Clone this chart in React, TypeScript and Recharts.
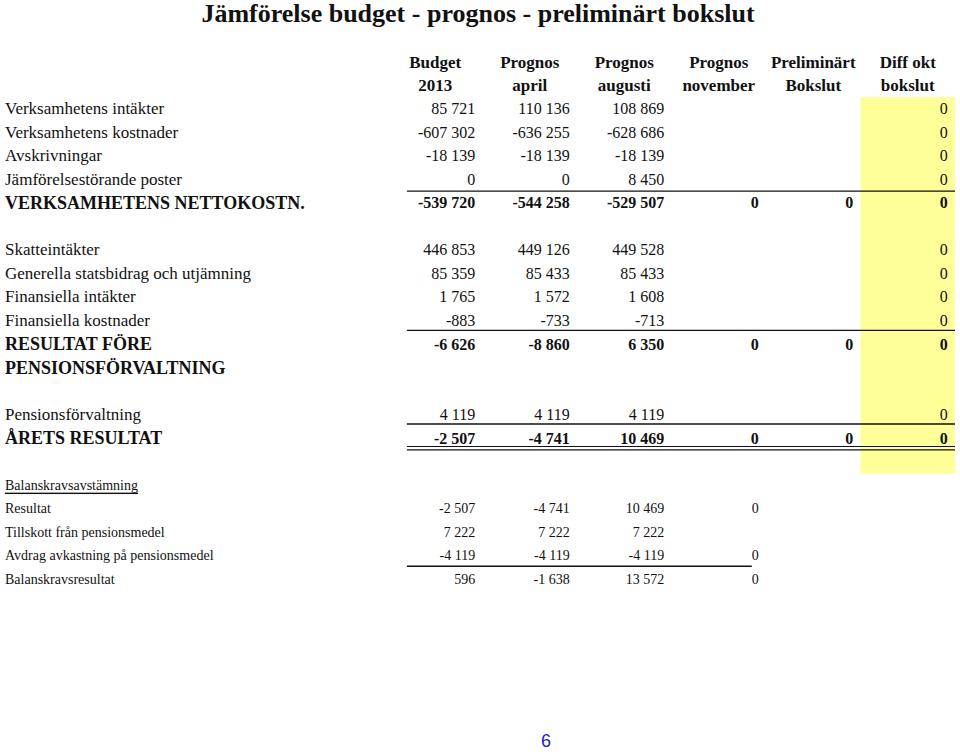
import React from "react";
import {
  ScatterChart,
  Scatter,
  XAxis,
  YAxis,
  ReferenceArea,
  ReferenceLine,
} from "recharts";

const title = "Jämförelse budget - prognos - preliminärt bokslut";

const headerTop = ["Budget", "Prognos", "Prognos", "Prognos", "Preliminärt", "Diff okt"];
const headerBottom = ["2013", "april", "augusti", "november", "Bokslut", "bokslut"];

const rowLabels = [
  "Verksamhetens intäkter",
  "Verksamhetens kostnader",
  "Avskrivningar",
  "Jämförelsestörande poster",
  "VERKSAMHETENS NETTOKOSTN.",
  "",
  "Skatteintäkter",
  "Generella statsbidrag och utjämning",
  "Finansiella intäkter",
  "Finansiella kostnader",
  "RESULTAT FÖRE",
  "PENSIONSFÖRVALTNING",
  "",
  "Pensionsförvaltning",
  "ÅRETS RESULTAT",
  "",
  "Balanskravsavstämning",
  "Resultat",
  "Tillskott från pensionsmedel",
  "Avdrag avkastning på pensionsmedel",
  "Balanskravsresultat",
];

const budget2013 = [85721, -607302, -18139, 0, -539720, null, 446853, 85359, 1765, -883, -6626, null, null, 4119, -2507, null, null, -2507, 7222, -4119, 596];
const prognosApril = [110136, -636255, -18139, 0, -544258, null, 449126, 85433, 1572, -733, -8860, null, null, 4119, -4741, null, null, -4741, 7222, -4119, -1638];
const prognosAugusti = [108869, -628686, -18139, 8450, -529507, null, 449528, 85433, 1608, -713, 6350, null, null, 4119, 10469, null, null, 10469, 7222, -4119, 13572];
const prognosNovember = [null, null, null, null, 0, null, null, null, null, null, 0, null, null, null, 0, null, null, 0, null, 0, 0];
const preliminartBokslut = [null, null, null, null, 0, null, null, null, null, null, 0, null, null, null, 0, null, null, null, null, null, null];
const diffOktBokslut = [0, 0, 0, 0, 0, null, 0, 0, 0, 0, 0, null, null, 0, 0, null, null, null, null, null, null];

const boldRows = [4, 10, 11, 14];
const smallRows = [16, 17, 18, 19, 20];
const underlinedRows = [16];

const columns = [budget2013, prognosApril, prognosAugusti, prognosNovember, preliminartBokslut, diffOktBokslut];

const serif = "'Liberation Serif', 'Times New Roman', serif";

const fmt = (v: number) =>
  (v < 0 ? "-" : "") + String(Math.abs(v)).replace(/\B(?=(\d{3})+(?!\d))/g, " ");

const cells = columns.map((vals, ci) =>
  vals
    .map((v, ri) => ({ ci, ri, v }))
    .filter((d) => d.v !== null)
);

const rowTicks = rowLabels.map((_, i) => i);
const colTicks = headerTop.map((_, i) => i);

const CellText = (props: any) => {
  const { cx, cy, payload } = props;
  const r = payload.ri;
  return (
    <text
      x={cx + 40}
      y={cy}
      textAnchor="end"
      dominantBaseline="central"
      fontFamily={serif}
      fontSize={smallRows.includes(r) ? 14 : 16}
      fontWeight={boldRows.includes(r) ? "bold" : "normal"}
      fill="#111"
    >
      {fmt(payload.v)}
    </text>
  );
};

const RowLabel = (props: any) => {
  const { y, payload } = props;
  const r = payload.value;
  const label = rowLabels[r];
  if (!label) return <g />;
  const bold = boldRows.includes(r);
  const size = smallRows.includes(r) ? 14 : bold ? 18 : 17;
  return (
    <text
      x={5}
      y={y}
      textAnchor="start"
      dominantBaseline="central"
      fontFamily={serif}
      fontSize={size}
      fontWeight={bold ? "bold" : "normal"}
      textDecoration={underlinedRows.includes(r) ? "underline" : undefined}
      fill="#111"
    >
      {label}
    </text>
  );
};

const HeaderTick = (props: any) => {
  const { x, y, payload } = props;
  const i = payload.value;
  return (
    <g fontFamily={serif} fontSize={17} fontWeight="bold" fill="#111">
      <text x={x} y={y - 33} textAnchor="middle" dominantBaseline="central">
        {headerTop[i]}
      </text>
      <text x={x} y={y - 10} textAnchor="middle" dominantBaseline="central">
        {headerBottom[i]}
      </text>
    </g>
  );
};

export default function App() {
  return (
    <div style={{ position: "absolute", left: 0, top: 0, width: 960, height: 754, background: "#fff" }}>
      <div
        style={{
          position: "absolute",
          left: 0,
          top: 0,
          width: 956,
          textAlign: "center",
          fontFamily: serif,
          fontWeight: "bold",
          fontSize: 26,
          lineHeight: "28px",
          color: "#111",
        }}
      >
        {title}
      </div>
      <ScatterChart width={960} height={754} margin={{ top: 0, right: 5, bottom: 163, left: 0 }}>
        <XAxis
          type="number"
          dataKey="ci"
          xAxisId="c"
          orientation="top"
          domain={[-0.5, 5.5]}
          ticks={colTicks}
          interval={0}
          height={97}
          axisLine={false}
          tickLine={false}
          tickSize={0}
          tick={<HeaderTick />}
        />
        <YAxis
          type="number"
          dataKey="ri"
          yAxisId="r"
          reversed
          domain={[-0.5, 20.5]}
          ticks={rowTicks}
          interval={0}
          width={388}
          axisLine={false}
          tickLine={false}
          tick={<RowLabel />}
        />
        <ReferenceArea
          xAxisId="c"
          yAxisId="r"
          x1={4.5}
          x2={5.5}
          y1={-0.5}
          y2={15.5}
          fill="#ffff99"
          fillOpacity={1}
          stroke="none"
        />
        <ReferenceLine xAxisId="c" yAxisId="r" segment={[{ x: -0.3, y: 3.5 }, { x: 5.5, y: 3.5 }]} stroke="#111" strokeWidth={1.4} />
        <ReferenceLine xAxisId="c" yAxisId="r" segment={[{ x: -0.3, y: 9.42 }, { x: 5.5, y: 9.42 }]} stroke="#111" strokeWidth={1.4} />
        <ReferenceLine xAxisId="c" yAxisId="r" segment={[{ x: -0.3, y: 13.4 }, { x: 5.5, y: 13.4 }]} stroke="#111" strokeWidth={1.4} />
        <ReferenceLine xAxisId="c" yAxisId="r" segment={[{ x: -0.3, y: 14.36 }, { x: 5.5, y: 14.36 }]} stroke="#111" strokeWidth={1.1} />
        <ReferenceLine xAxisId="c" yAxisId="r" segment={[{ x: -0.3, y: 14.5 }, { x: 5.5, y: 14.5 }]} stroke="#111" strokeWidth={1.1} />
        <ReferenceLine xAxisId="c" yAxisId="r" segment={[{ x: -0.3, y: 19.45 }, { x: 3.35, y: 19.45 }]} stroke="#111" strokeWidth={1.4} />
        {cells.map((data, ci) => (
          <Scatter
            key={ci}
            xAxisId="c"
            yAxisId="r"
            data={data}
            shape={<CellText />}
            isAnimationActive={false}
          />
        ))}
      </ScatterChart>
      <div
        style={{
          position: "absolute",
          left: 526,
          top: 731,
          width: 40,
          textAlign: "center",
          fontFamily: "'Liberation Sans', Arial, sans-serif",
          fontSize: 18,
          color: "#2222bb",
        }}
      >
        6
      </div>
    </div>
  );
}
